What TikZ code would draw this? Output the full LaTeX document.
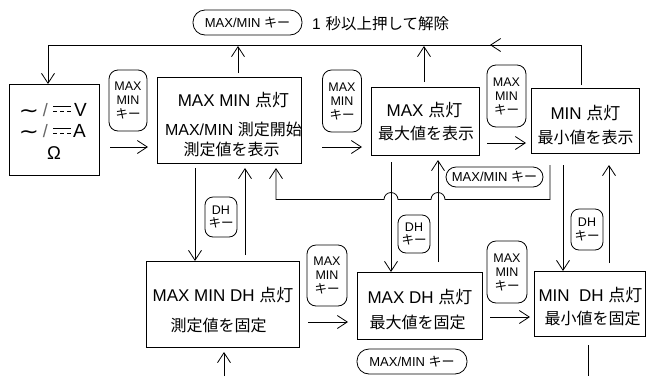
\documentclass[tikz,border=0pt]{standalone}
\usepackage{fontspec}
\usepackage{graphicx}
\setmainfont{Liberation Sans}
\newfontfamily\jp{Noto Sans CJK JP}
\newfontfamily\dvs{DejaVu Sans}
\usetikzlibrary{arrows.meta}
\begin{document}
\begin{tikzpicture}[x=1pt,y=-1pt,
  every node/.style={inner sep=0pt, outer sep=0pt},
  statebox/.style={draw, line width=0.8pt},
  keybox/.style={draw, line width=0.8pt, rounded corners=9pt, align=center,
    font=\fontsize{12.5}{14}\selectfont},
  dhbox/.style={draw, line width=0.8pt, rounded corners=8pt, align=center,
    font=\fontsize{12.5}{13.5}\selectfont},
  pill/.style={draw, line width=0.8pt, font=\fontsize{13}{13}\selectfont},
  ln/.style={line width=0.8pt},
  arr/.style={ln, -{Straight Barb[length=10pt,width=13pt]}},
  bigt/.style={font=\fontsize{17}{17}\selectfont},
  midt/.style={font=\fontsize{16}{16}\selectfont},
  tilde/.style={font=\dvs\fontsize{16}{16}\selectfont},
  slash/.style={anchor=base, font=\fontsize{18}{18}\selectfont, text=black!60},
  unit/.style={anchor=base, font=\fontsize{19}{19}\selectfont},
]
\useasboundingbox (0,0) rectangle (646,376);

% ---------- state boxes ----------
\node[statebox, minimum width=90pt, minimum height=91pt] (L) at (54,129.5) {};
\node[statebox, minimum width=144pt, minimum height=86pt] (MM) at (229,120) {};
\node[statebox, minimum width=108pt, minimum height=68pt] (MX) at (425,121) {};
\node[statebox, minimum width=108pt, minimum height=65pt] (MN) at (585,120.5) {};
\node[statebox, minimum width=153pt, minimum height=86pt] (MMD) at (222.5,304) {};
\node[statebox, minimum width=125pt, minimum height=67pt] (MXD) at (419.5,305.5) {};
\node[statebox, minimum width=111pt, minimum height=65pt] (MND) at (589.5,303.5) {};

% ---------- state texts ----------
\node[tilde] (Lt1) at (29,113) {\scalebox{1.5}[1.25]{∼}};
\node[slash] (Ls1) at (45.5,116) {/};
\node[unit] (Lv) at (80.5,116) {V};
\node[tilde] (Lt2) at (29,134.5) {\scalebox{1.5}[1.25]{∼}};
\node[slash] (Ls2) at (45.5,137.5) {/};
\node[unit] (La) at (79.5,137.5) {A};
\node[anchor=base, font=\fontsize{18.5}{18.5}\selectfont] (Lo) at (54,159) {Ω};
\draw[ln] (53,106) -- (71,106);
\draw[ln, dash pattern=on 4pt off 3pt] (53,111) -- (71,111);
\draw[ln] (53,128) -- (71,128);
\draw[ln, dash pattern=on 4pt off 3pt] (53,133) -- (71,133);

\node[bigt] (MMa) at (233.5,100) {MAX MIN {\jp 点灯}};
\node[midt] (MMb) at (233.5,129) {MAX/MIN {\jp 測定開始}};
\node[midt] (MMc) at (231.5,149.5) {\jp 測定値を表示};

\node[bigt] (MXa) at (424.5,110) {MAX {\jp 点灯}};
\node[midt] (MXb) at (426,133) {\jp 最大値を表示};

\node[bigt] (MNa) at (585.5,113) {MIN {\jp 点灯}};
\node[midt] (MNb) at (585.5,137) {\jp 最小値を表示};

\node[bigt] (MMDa) at (223,295) {MAX MIN DH {\jp 点灯}};
\node[midt] (MMDb) at (218.5,325) {\jp 測定値を固定};

\node[bigt] (MXDa) at (420,297) {MAX DH {\jp 点灯}};
\node[midt] (MXDb) at (417.5,322) {\jp 最大値を固定};

\node[bigt] (MNDa) at (590.5,295) {MIN\ \ DH {\jp 点灯}};
\node[midt] (MNDb) at (592.5,318) {\jp 最小値を固定};

% ---------- key labels ----------
\node[keybox, minimum width=38pt, minimum height=61pt] (K1) at (128,100.5)
  {MAX\\MIN\\{\jp\fontsize{12.5}{14}\selectfont キー}};
\node[keybox, minimum width=39pt, minimum height=62pt] (K2) at (342,101)
  {MAX\\MIN\\{\jp\fontsize{12.5}{14}\selectfont キー}};
\node[keybox, minimum width=39pt, minimum height=62pt] (K3) at (506.5,96)
  {MAX\\MIN\\{\jp\fontsize{12.5}{14}\selectfont キー}};
\node[keybox, minimum width=40pt, minimum height=61pt] (K4) at (327,275.5)
  {MAX\\MIN\\{\jp\fontsize{12.5}{14}\selectfont キー}};
\node[keybox, minimum width=40pt, minimum height=62pt] (K5) at (507,272)
  {MAX\\MIN\\{\jp\fontsize{12.5}{14}\selectfont キー}};

\node[dhbox, minimum width=32pt, minimum height=40pt] (D1) at (221,217)
  {DH\\{\jp\fontsize{12.5}{13.5}\selectfont キー}};
\node[dhbox, minimum width=32pt, minimum height=38pt] (D2) at (414,234)
  {DH\\{\jp\fontsize{12.5}{13.5}\selectfont キー}};
\node[dhbox, minimum width=32pt, minimum height=41pt] (D3) at (587,229.5)
  {DH\\{\jp\fontsize{12.5}{13.5}\selectfont キー}};

\node[pill, rounded corners=12pt, minimum width=109pt, minimum height=25pt] (T1) at (247.5,22.5)
  {MAX/MIN {\jp キー}};
\node[pill, rounded corners=10pt, minimum width=97pt, minimum height=20pt] (T2) at (494.5,177)
  {MAX/MIN {\jp キー}};
\node[pill, rounded corners=12pt, minimum width=110pt, minimum height=25pt] (T3) at (412,361.5)
  {MAX/MIN {\jp キー}};

\node[anchor=west, font=\fontsize{15.5}{15.5}\selectfont] (T1note) at (312,24)
  {1\hspace{5pt}{\jp 秒以上押して解除}};

% ---------- horizontal connectors ----------
\draw[arr, shorten <=11pt, shorten >=9pt] (L.east |- 0,147) -- (MM.west |- 0,147);
\draw[arr, shorten <=21pt, shorten >=9pt] (MM.east |- 0,147) -- (MX.west |- 0,147);
\draw[arr, shorten <=8pt, shorten >=5pt] (MX.east |- 0,143) -- (MN.west |- 0,143);
\draw[arr, shorten <=9pt, shorten >=9pt] (MMD.east |- 0,322) -- (MXD.west |- 0,322);
\draw[arr, shorten <=8pt, shorten >=4pt] (MXD.east |- 0,317) -- (MND.west |- 0,317);

% ---------- vertical connectors ----------
\draw[arr, shorten <=5pt] (195,0 |- MM.south) -- (195,0 |- MMD.north);
\draw[arr, shorten <=6pt, shorten >=5pt] (245,0 |- MMD.north) -- (245,0 |- MM.south);
\draw[arr, shorten <=7pt] (391,0 |- MX.south) -- (391,0 |- MXD.north);
\draw[arr, shorten <=10pt, shorten >=5pt] (438,0 |- MXD.north) -- (438,0 |- MX.south);
\draw[arr, shorten <=12pt] (563,0 |- MN.south) -- (563,0 |- MND.north);
\draw[arr, shorten <=8pt, shorten >=12pt] (609,0 |- MND.north) -- (609,0 |- MN.south);

% return from MIN to MAX MIN (with line jumps)
\coordinate (R1) at (550,199.5);
\coordinate (R2) at (276,199.5);
\draw[arr, shorten <=12pt, shorten >=5pt] (550,0 |- MN.south) -- (R1)
  -- (445,199.5) arc[start angle=0, end angle=180, radius=7pt]
  -- (398,199.5) arc[start angle=0, end angle=180, radius=7pt]
  -- (R2) -- (276,0 |- MM.south);

% ---------- top loop ----------
\coordinate (TR) at (581,45);
\coordinate (TL) at (48,45);
\draw[arr, shorten <=3pt] (581,0 |- MN.north) -- (TR) -- (TL) -- (48,0 |- L.north);
\draw[arr] (506,45) -- (490,45);
\draw[arr, shorten <=4pt] (238,0 |- MM.north) -- (238,46);
\draw[arr, shorten <=5pt] (424,0 |- MX.north) -- (424,46);

% ---------- bottom ----------
\draw[arr, shorten >=5pt] (224,376) -- (224,0 |- MMD.south);
\draw[ln, shorten <=9pt] (588,0 |- MND.south) -- (588,376);
\end{tikzpicture}
\end{document}
